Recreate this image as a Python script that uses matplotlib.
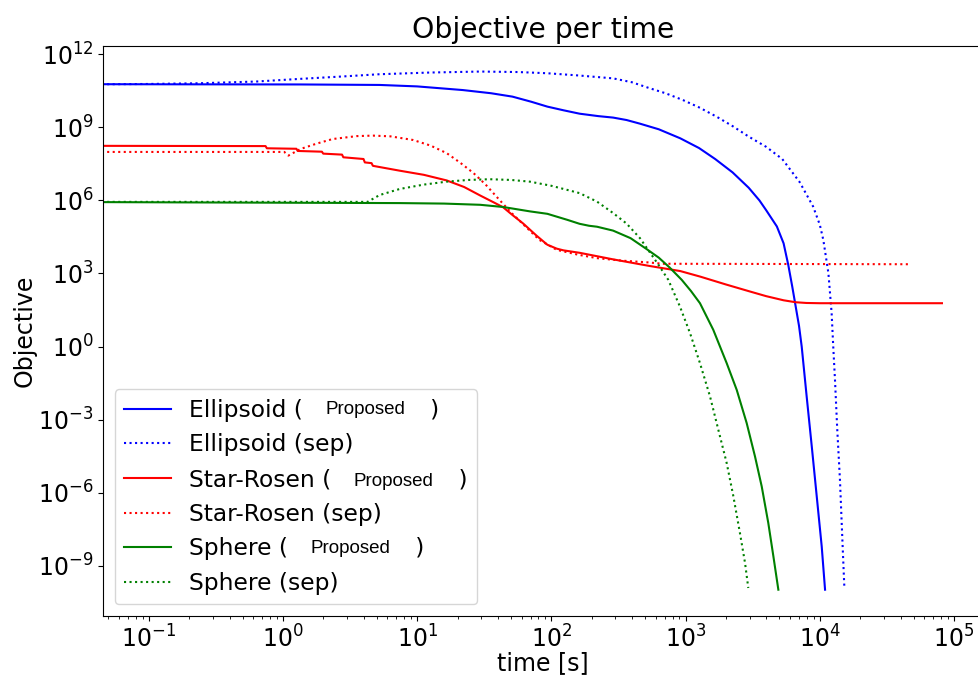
import numpy as np
import matplotlib
matplotlib.use('Agg')
import matplotlib.pyplot as plt
from matplotlib.ticker import NullLocator

# values, stored as log10 (decades)
ell_prop_lt = [-1.34, 0.13, 0.72, 1.00, 1.34, 1.55, 1.71, 1.85, 1.97, 2.09, 2.21, 2.35,
               2.46, 2.56, 2.66, 2.80, 2.96, 3.10, 3.22, 3.35, 3.47, 3.55, 3.60, 3.68,
               3.73, 3.765, 3.795, 3.82, 3.845, 3.865, 3.902, 3.94, 3.977, 4.014, 4.039]
ell_prop_ly = [10.77, 10.76, 10.74, 10.68, 10.53, 10.40, 10.26, 10.05, 9.85, 9.70, 9.56, 9.46,
               9.40, 9.30, 9.15, 8.92, 8.55, 8.15, 7.70, 7.15, 6.52, 6.00, 5.60, 4.93,
               4.24, 3.35, 2.45, 1.65, 0.85, 0.00, -2.05, -4.10, -6.15, -8.20, -9.98]

ell_sep_lt = [-1.31, -1.00, -0.62, -0.20, 0.13, 0.45, 0.72, 1.10, 1.47, 1.75, 1.97, 2.20,
              2.46, 2.60, 2.735, 2.85, 2.98, 3.10, 3.23, 3.35, 3.47, 3.60, 3.72, 3.85,
              3.95, 4.00, 4.026, 4.045, 4.064, 4.088, 4.10, 4.113, 4.13, 4.15, 4.17, 4.183]
ell_sep_ly = [10.77, 10.78, 10.81, 10.88, 10.99, 11.09, 11.18, 11.25, 11.29, 11.27, 11.22, 11.13,
              11.01, 10.85, 10.60, 10.40, 10.12, 9.82, 9.44, 9.05, 8.62, 8.20, 7.70, 6.75,
              5.75, 5.00, 4.38, 3.70, 3.01, 1.37, 0.00, -1.37, -3.42, -5.47, -8.20, -9.91]

sr_prop_lt = [-1.34, -0.13, -0.12, 0.10, 0.11, 0.29, 0.30, 0.44, 0.45, 0.60, 0.61, 0.66,
              0.67, 0.87, 1.05, 1.22, 1.35, 1.47, 1.57, 1.64, 1.71, 1.79, 1.89, 1.97,
              2.04, 2.09, 2.21, 2.46, 2.73, 2.96, 3.11, 3.30, 3.48, 3.60, 3.73, 3.82,
              3.90, 4.00, 4.91]
sr_prop_ly = [8.24, 8.23, 8.14, 8.12, 8.03, 8.00, 7.92, 7.88, 7.77, 7.70, 7.56, 7.53,
              7.42, 7.22, 7.05, 6.82, 6.55, 6.20, 5.92, 5.72, 5.40, 5.05, 4.55, 4.18,
              4.02, 3.95, 3.85, 3.58, 3.31, 3.10, 2.87, 2.55, 2.26, 2.07, 1.90, 1.82,
              1.79, 1.78, 1.78]

sr_sep_lt = [-1.31, 0.01, 0.04, 0.13, 0.25, 0.37, 0.55, 0.67, 0.80, 0.97, 1.10, 1.22,
             1.32, 1.42, 1.51, 1.59, 1.70, 1.82, 1.91, 2.04, 2.20, 2.34, 2.52, 2.71,
             2.83, 4.68]
sr_sep_ly = [7.99, 7.99, 7.84, 8.11, 8.33, 8.52, 8.64, 8.66, 8.63, 8.48, 8.25, 7.94,
             7.55, 7.12, 6.65, 6.16, 5.50, 4.86, 4.38, 3.97, 3.77, 3.63, 3.53, 3.46,
             3.40, 3.38]

sph_prop_lt = [-1.34, 0.87, 1.20, 1.47, 1.64, 1.84, 1.97, 2.12, 2.21, 2.28, 2.34, 2.46,
               2.59, 2.71, 2.80, 2.88, 2.971, 3.04, 3.107, 3.206, 3.306, 3.381, 3.455,
               3.517, 3.567, 3.616, 3.654, 3.691]
sph_prop_ly = [5.93, 5.89, 5.87, 5.82, 5.73, 5.55, 5.45, 5.20, 5.04, 4.96, 4.92, 4.76,
               4.45, 4.00, 3.65, 3.25, 2.74, 2.28, 1.78, 0.69, -0.68, -1.78, -3.14,
               -4.51, -5.74, -7.24, -8.61, -9.98]

sph_sep_lt = [-1.31, 0.63, 0.72, 0.87, 1.05, 1.22, 1.38, 1.54, 1.70, 1.84, 2.00, 2.21,
              2.34, 2.46, 2.56, 2.66, 2.79, 2.871, 2.958, 3.033, 3.107, 3.182, 3.244,
              3.306, 3.356, 3.405, 3.443, 3.467]
sph_sep_ly = [5.94, 5.94, 6.22, 6.47, 6.65, 6.77, 6.84, 6.87, 6.84, 6.77, 6.60, 6.30,
              5.95, 5.48, 5.05, 4.45, 3.42, 2.74, 1.64, 0.55, -0.68, -2.05, -3.42,
              -4.78, -6.15, -7.66, -8.89, -9.91]

names = ['Ellipsoid', 'Star-Rosen', 'Sphere']
colors = ['blue', 'red', 'green']
spacer = ' ' * 16 + '\u2009\u2009'

series = [
    (ell_prop_lt, ell_prop_ly, 0, True),
    (ell_sep_lt, ell_sep_ly, 0, False),
    (sr_prop_lt, sr_prop_ly, 1, True),
    (sr_sep_lt, sr_sep_ly, 1, False),
    (sph_prop_lt, sph_prop_ly, 2, True),
    (sph_sep_lt, sph_sep_ly, 2, False),
]

fig = plt.figure(figsize=(9.79, 6.75), dpi=100)
ax = fig.add_axes([0.1052, 0.0874, 0.8985, 0.8445])

for lt, ly, k, prop in series:
    if prop:
        lab = names[k] + ' (' + spacer + ')'
        ls = '-'
    else:
        lab = names[k] + ' (sep)'
        ls = ':'
    ax.plot(10.0 ** np.array(lt), 10.0 ** np.array(ly), color=colors[k], ls=ls, lw=1.5, label=lab)

ax.set_xscale('log')
ax.set_yscale('log')
ax.set_xlim(10 ** -1.341, 10 ** 5.213)
ax.set_ylim(10 ** -11.06, 10 ** 12.34)
ax.set_xticks(10.0 ** np.arange(-1, 6))
ax.set_yticks(10.0 ** np.arange(-9, 13, 3))
ax.yaxis.set_minor_locator(NullLocator())
ax.tick_params(labelsize=17)
ax.set_xlabel('time [s]', fontsize=17, labelpad=-1)
ax.set_ylabel('Objective', fontsize=17, labelpad=1)
ax.set_title('Objective per time', fontsize=20.3)
leg = ax.legend(loc='lower left', fontsize=16.8)

# the small "Proposed" tag sits inside the parentheses of the legend labels
fig.canvas.draw()
r = fig.canvas.get_renderer()
W, H = fig.bbox.width, fig.bbox.height
for t in leg.get_texts():
    s = t.get_text()
    if not s.endswith(spacer + ')'):
        continue
    fp = t.get_fontproperties()
    prefix = s[:s.index('(') + 1]
    w, h, d = r.get_text_width_height_descent(prefix, fp, ismath=False)
    _, _, dfull = r.get_text_width_height_descent(s, fp, ismath=False)
    bb = t.get_window_extent(r)
    fig.text((bb.x0 + w + 22) / W, (bb.y0 + dfull + 2.5) / H, 'Proposed',
             family='Liberation Sans', fontsize=13.5, va='baseline', ha='left')

fig.savefig('out.png', dpi=100)
